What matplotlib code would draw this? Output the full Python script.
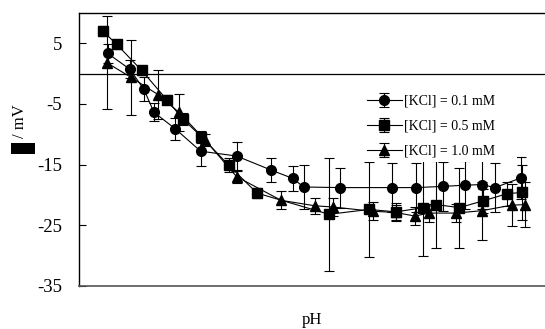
import matplotlib.pyplot as plt
from matplotlib.patches import Rectangle

plt.rcParams['font.family'] = ['Liberation Serif', 'DejaVu Serif']
plt.rcParams['axes.unicode_minus'] = False

# ---- data ----
ph_01 = [2.18, 2.70, 3.03, 3.27, 3.77, 4.37, 5.22, 6.03, 6.55, 6.80, 7.67,
         8.88, 9.46, 10.10, 10.61, 11.01, 11.32, 11.93]
zeta_01 = [3.3, 0.7, -2.6, -6.4, -9.1, -12.8, -13.6, -15.9, -17.3, -18.7, -18.8,
           -18.8, -18.8, -18.6, -18.4, -18.3, -18.8, -17.2]
err_01 = [1.5, 1.5, 2.0, 1.5, 1.8, 2.4, 2.3, 2.0, 2.1, 3.6, 3.3,
          4.0, 4.0, 4.0, 4.0, 4.0, 4.0, 3.5]

ph_05 = [2.06, 2.39, 2.98, 3.57, 3.95, 4.39, 5.03, 5.70, 7.40, 8.35, 8.98,
         9.63, 9.93, 10.48, 11.03, 11.61, 11.95]
zeta_05 = [7.0, 4.8, 0.5, -4.3, -7.5, -10.4, -15.1, -19.7, -23.2, -22.4, -22.8,
           -22.1, -21.6, -22.1, -21.0, -19.8, -19.6]
err_05 = [0.8, 0.8, 0.8, 0.8, 1.0, 1.0, 1.2, 0.8, 9.3, 7.9, 1.5,
          7.9, 7.2, 6.6, 2.0, 2.0, 4.5]

ph_10 = [2.15, 2.72, 3.37, 3.86, 4.47, 5.22, 6.27, 7.07, 7.50, 8.43, 8.98,
         9.43, 9.75, 10.40, 11.01, 11.71, 12.03]
zeta_10 = [1.8, -0.6, -3.5, -6.4, -10.9, -17.0, -20.9, -21.8, -22.0, -22.7, -22.9,
           -23.5, -23.0, -23.0, -22.6, -21.7, -21.6]
err_10 = [7.7, 6.2, 4.0, 3.0, 1.0, 1.0, 1.5, 1.3, 1.5, 1.5, 1.3,
          1.5, 1.5, 1.5, 4.8, 3.5, 3.7]

labels = ['[KCl] = 0.1 mM', '[KCl] = 0.5 mM', '[KCl] = 1.0 mM']
markers = ['o', 's', '^']
yticks = [5, -5, -15, -25, -35]

fig = plt.figure(figsize=(5.45, 3.29), dpi=100)
ax = fig.add_axes([0.145, 0.131, 0.855, 0.83])

series = [(ph_01, zeta_01, err_01), (ph_05, zeta_05, err_05), (ph_10, zeta_10, err_10)]
for (x, y, e), lab, m in zip(series, labels, markers):
    ax.errorbar(x, y, yerr=e, fmt='-', marker=m, color='black', ecolor='black',
                markersize=7, linewidth=0.8, elinewidth=0.8, capsize=3.5,
                capthick=0.8, label=lab)

ax.axhline(0, color='black', linewidth=0.9)

ax.set_xlim(1.5, 12.5)
ax.set_ylim(-35, 10)
ax.set_yticks(yticks)
ax.set_yticklabels([str(t) for t in yticks], fontsize=13.5)
ax.set_xticks([])
ax.tick_params(axis='y', direction='in', length=5, width=0.8, pad=12)

ax.spines['right'].set_visible(False)
ax.spines['top'].set_linewidth(1.0)
ax.spines['left'].set_linewidth(1.0)
ax.spines['bottom'].set_color('#555555')
ax.spines['bottom'].set_linewidth(1.2)

ax.set_xlabel('pH', fontsize=12, labelpad=19)

# y label: symbol is blacked out in the source, only "/ mV" is readable
fig.text(0.037, 0.58, '/ mV', rotation=90, fontsize=12, ha='center', va='bottom')
fig.patches.append(Rectangle((0.02, 0.532), 0.044, 0.034, transform=fig.transFigure,
                             facecolor='black', edgecolor='none'))

leg = ax.legend(loc='upper left', bbox_to_anchor=(0.594, 0.44, 0.36, 0.3),
                mode='expand', fontsize=10, frameon=True, handlelength=2.5,
                handletextpad=0.2, labelspacing=0.85, borderpad=0.3)
leg.get_frame().set_facecolor('white')
leg.get_frame().set_edgecolor('none')
leg.get_frame().set_alpha(1.0)

fig.savefig('out.png', dpi=100)
